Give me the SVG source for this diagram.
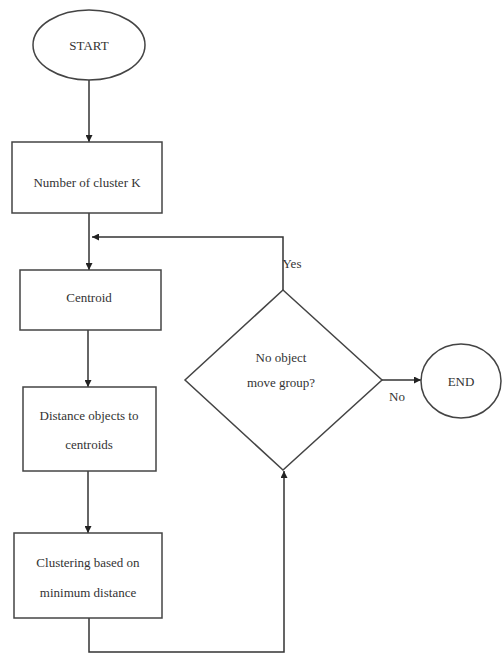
<svg xmlns="http://www.w3.org/2000/svg" width="504" height="657" viewBox="0 0 504 657">
<style>
.s{fill:#fff;stroke:#444;stroke-width:1.5}
.c{fill:none;stroke:#333;stroke-width:1.5}
text{font-size:13px;fill:#333;text-anchor:middle}
</style>
<defs>
<marker id="a" viewBox="0 0 10 10" refX="10" refY="5" markerWidth="7" markerHeight="7" orient="auto" markerUnits="userSpaceOnUse">
<path d="M0,0L10,5L0,10z" fill="#222"/>
</marker>
</defs>
<rect width="504" height="657" fill="#fff"/>
<g font-family="'Liberation Serif','Times New Roman','DejaVu Serif',serif">
<g id="connectors">
<line class="c" x1="89" y1="80" x2="89" y2="142" marker-end="url(#a)"/>
<line class="c" x1="89" y1="213" x2="89" y2="270" marker-end="url(#a)"/>
<polyline class="c" points="283,290 283,237 92,237" marker-end="url(#a)"/>
<line class="c" x1="88" y1="330" x2="88" y2="387" marker-end="url(#a)"/>
<line class="c" x1="88" y1="471" x2="88" y2="533" marker-end="url(#a)"/>
<polyline class="c" points="89,618 89,652 284,652 284,471" marker-end="url(#a)"/>
<line class="c" x1="382" y1="380" x2="421" y2="380" stroke-width="3" marker-end="url(#a)"/>
<text x="292" y="268">Yes</text>
<text x="397" y="401">No</text>
</g>
<g id="start">
<ellipse class="s" cx="89" cy="45" rx="56" ry="35"/>
<text x="89" y="50">START</text>
</g>
<g id="numk">
<rect class="s" x="12" y="142" width="150" height="71"/>
<text x="87" y="187">Number of cluster K</text>
</g>
<g id="centroid">
<rect class="s" x="20" y="270" width="141" height="60"/>
<text x="89" y="302">Centroid</text>
</g>
<g id="distance">
<rect class="s" x="23" y="387" width="133" height="84"/>
<text x="89" y="420">Distance objects to</text>
<text x="89" y="449">centroids</text>
</g>
<g id="clustering">
<rect class="s" x="14" y="533" width="148" height="85"/>
<text x="88" y="567">Clustering based on</text>
<text x="88" y="597">minimum distance</text>
</g>
<g id="decision">
<polygon class="s" points="283,290 382,380 283,470 185,380"/>
<text x="281" y="362">No object</text>
<text x="281" y="387">move group?</text>
</g>
<g id="end">
<ellipse class="s" cx="461" cy="381" rx="40" ry="37"/>
<text x="461" y="386">END</text>
</g>
</g>
</svg>
